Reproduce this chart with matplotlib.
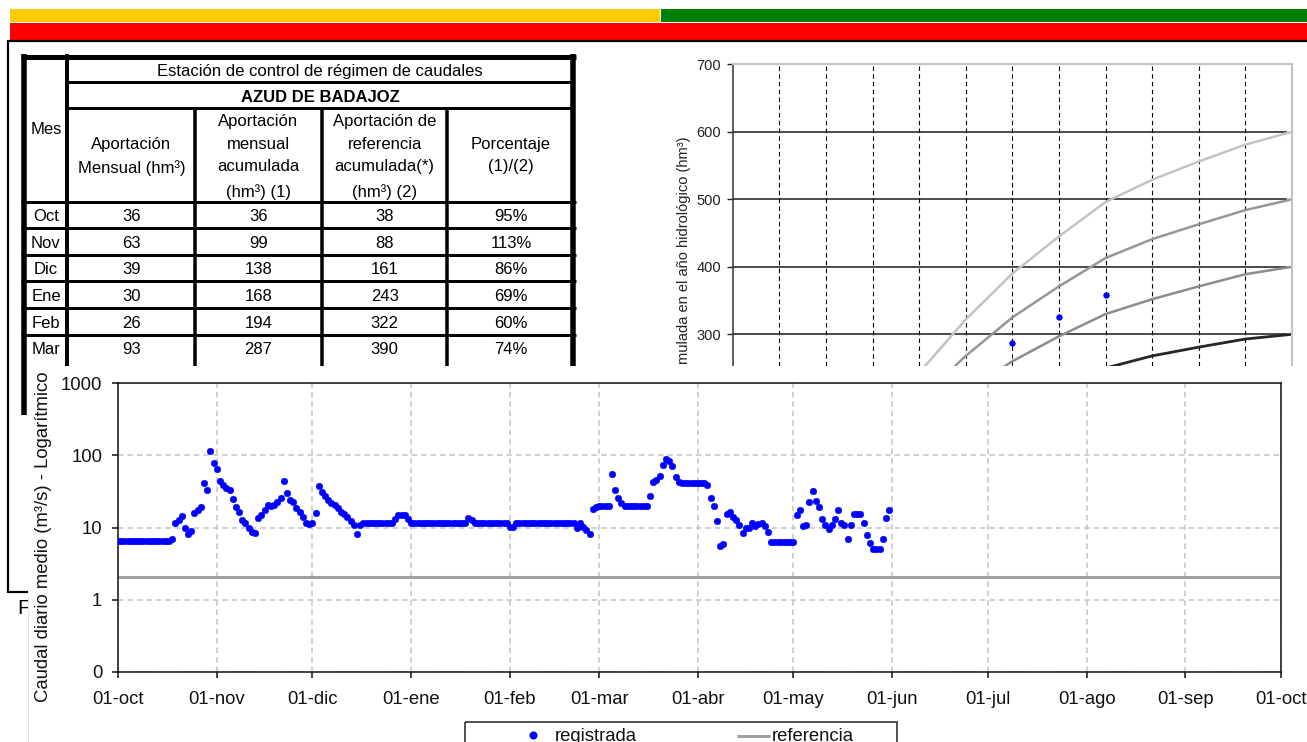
import numpy as np
import matplotlib
matplotlib.use("Agg")
import matplotlib.pyplot as plt
from matplotlib.patches import Rectangle
from matplotlib.ticker import NullLocator, FixedLocator, FixedFormatter

W, H = 1307, 742
DPI = 100
PX = 0.72  # points per pixel at 100 dpi

plt.rcParams['font.family'] = ['Liberation Sans', 'DejaVu Sans']

# ---------------- table data ----------------
meses = ["Oct", "Nov", "Dic", "Ene", "Feb", "Mar"]
aport_mensual = [36, 63, 39, 30, 26, 93]
aport_acumulada = [36, 99, 138, 168, 194, 287]
ref_acumulada = [38, 88, 161, 243, 322, 390]
porcentaje = [95, 113, 86, 69, 60, 74]

# ---------------- cumulative chart data ----------------
mes_pos = list(range(1, 13))
curva_referencia = ref_acumulada + [445, 496, 529, 556, 581, 600]
curva_500 = [32, 73, 134, 203, 268, 325, 371, 413, 441, 463, 484, 500]
curva_400 = [25, 59, 107, 162, 215, 260, 297, 330, 352, 371, 389, 400]
curva_300 = [19, 44, 81, 122, 161, 195, 223, 250, 268, 281, 293, 300]
acum_pos = [6, 7, 8]
acum_valor = [287, 326, 358]

# ---------------- daily flow data (m3/s) ----------------
caudal_oct = [6.6, 6.6, 6.6, 6.6, 6.6, 6.6, 6.6, 6.6, 6.6, 6.6, 6.6, 6.6, 6.6, 6.6, 6.6, 6.6, 6.6,
              7.0, 11.4, 12.5, 14.5, 10.0, 8.1, 9.0, 15.7, 17.5, 19.5, 41.4, 33.5, 115, 79]
caudal_nov = [65, 44, 39, 35, 32.6, 24.7, 19, 16.6, 12.9, 11.4, 9.7, 8.7, 8.3, 13.4, 14.9,
              17.5, 20.5, 19.9, 20.5, 22.9, 25.5, 43.7, 30, 24, 22.9, 18.5, 16.6, 14.1, 11.4, 11.1]
caudal_dic = [11.4, 15.9, 37, 31, 27, 24, 21.7, 20.5, 18.5, 16.6, 15.4, 13.8, 12.4, 10.8, 8.2, 10.8,
              11.4, 11.4, 11.4, 11.4, 11.4, 11.4, 11.4, 11.4, 11.4, 11.4, 13.0, 14.7, 14.7, 14.7, 13.2]
caudal_ene = [11.4, 11.4, 11.4, 11.4, 11.4, 11.4, 11.4, 11.4, 11.4, 11.4, 11.4, 11.4, 11.4, 11.4,
              11.4, 11.4, 11.4, 11.4, 13.5, 12.6, 11.4, 11.4, 11.4, 11.4, 11.4, 11.4, 11.4, 11.4,
              11.4, 11.4, 11.4]
caudal_feb = [10.3, 10.3, 11.4, 11.4, 11.4, 11.4, 11.4, 11.4, 11.4, 11.4, 11.4, 11.4, 11.4, 11.4,
              11.4, 11.4, 11.4, 11.4, 11.4, 11.4, 11.4, 10.0, 11.4, 10.1, 9.3, 8.2, 18, 19.2]
caudal_mar = [20, 19.6, 19.6, 19.6, 55, 33, 25.5, 21.8, 19.6, 19.6, 19.6, 19.6, 19.6, 19.6, 19.6,
              19.6, 27, 42, 46, 52, 74, 88, 84, 70, 50, 43, 41.5, 41.5, 41.5, 41.5, 41.5]
caudal_abr = [41.5, 41.5, 41.5, 39, 25.5, 20, 12.3, 5.6, 6.0, 15.5, 16.2, 14, 12.8, 11, 8.5,
              9.8, 10, 11.6, 10.4, 11.3, 11.7, 10.4, 8.7, 6.4, 6.4, 6.4, 6.4, 6.4, 6.4, 6.4]
caudal_may = [6.4, 15, 17.6, 10.4, 11, 22.5, 31.6, 23.5, 19, 13.1, 10.9, 9.5, 11, 13.1, 17.2,
              11.7, 11, 7.0, 11, 15.3, 15.5, 15.3, 11.4, 7.8, 6.1, 5.1, 5.0, 5.0, 7.0, 13.5, 17.2]
caudal_referencia = 2.07

mes_ticks = [0, 31, 61, 92, 123, 151, 182, 212, 243, 273, 304, 335, 365]
mes_labels = ["01-oct", "01-nov", "01-dic", "01-ene", "01-feb", "01-mar", "01-abr",
              "01-may", "01-jun", "01-jul", "01-ago", "01-sep", "01-oct"]

caudal = (caudal_oct + caudal_nov + caudal_dic + caudal_ene + caudal_feb +
          caudal_mar + caudal_abr + caudal_may)
dias = np.arange(len(caudal))

fig = plt.figure(figsize=(W / DPI, H / DPI), dpi=DPI)


def box(x0, y0, x1, y1):
    """Pixel box (origin top-left) to figure-fraction rectangle."""
    return [x0 / W, 1 - y1 / H, (x1 - x0) / W, (y1 - y0) / H]


def canvas(z):
    a = fig.add_axes([0, 0, 1, 1], zorder=z)
    a.set_xlim(0, W)
    a.set_ylim(H, 0)
    a.axis('off')
    return a


back = canvas(0)

# header bars
back.add_patch(Rectangle((10, 8.5), 650, 13.5, facecolor='#ffcc00', lw=0))
back.add_patch(Rectangle((660.5, 8.5), 646.5, 13.5, facecolor='#008000', lw=0))
back.add_patch(Rectangle((10, 23), 1297, 16.5, facecolor='#ff0000', lw=0))

# page frame
back.plot([8.3, W], [40.8, 40.8], color='black', lw=2.2 * PX, solid_capstyle='butt')
back.plot([8.3, 8.3], [40, 592.7], color='black', lw=2.2 * PX, solid_capstyle='butt')
back.plot([7.5, 28], [591.7, 591.7], color='black', lw=2.2 * PX, solid_capstyle='butt')
back.text(17, 608, "F", fontsize=15, ha='left', va='center', color='black')

# ---------------- table ----------------
tcol = dict(color='black', solid_capstyle='butt')
x_left, x_mes, x_c1, x_c2, x_c3, x_right = 23.8, 67, 195, 321.5, 447, 573
back.plot([x_left, x_left], [54, 415], lw=5.5 * PX, **tcol)
back.plot([x_mes, x_mes], [54, 415], lw=4 * PX, **tcol)
for xv in (x_c1, x_c2, x_c3):
    back.plot([xv, xv], [108, 415], lw=3.5 * PX, **tcol)
back.plot([x_right, x_right], [54, 415], lw=5.5 * PX, **tcol)
back.plot([21, 576], [56.5, 56.5], lw=5 * PX, **tcol)
back.plot([x_mes, x_right], [82, 82], lw=3 * PX, **tcol)
back.plot([x_mes, x_right], [108, 108], lw=3 * PX, **tcol)
for yv in (202, 227.7, 254.5, 281.2, 308, 334.7):
    back.plot([21, 576], [yv, yv], lw=3 * PX, **tcol)

fs_t = 12
back.text(320, 71.7, "Estación de control de régimen de caudales", fontsize=fs_t,
          ha='center', va='center')
back.text(320, 97.3, "AZUD DE BADAJOZ", fontsize=fs_t, fontweight='bold',
          ha='center', va='center')
back.text(46, 130, "Mes", fontsize=fs_t, ha='center', va='center')

cx = [46, 131.5, 258.3, 384.6, 511]
headers = [
    (cx[1], [(144.3, "Aportación"), (168.3, "Mensual (hm³)")]),
    (cx[2], [(121.7, "Aportación"), (144.3, "mensual"), (166.7, "acumulada"), (191.7, "(hm³) (1)")]),
    (cx[3], [(121.7, "Aportación de"), (144.3, "referencia"), (166.7, "acumulada(*)"), (191.7, "(hm³) (2)")]),
    (cx[4], [(144.3, "Porcentaje"), (166.7, "(1)/(2)")]),
]
for xc, lines in headers:
    for yc, s in lines:
        back.text(xc, yc, s, fontsize=fs_t, ha='center', va='center')

row_y = [216.5, 243.5, 270, 296.5, 323, 349.5]
for i, yr in enumerate(row_y):
    back.text(cx[0], yr, meses[i], fontsize=fs_t, ha='center', va='center')
    back.text(cx[1], yr, str(aport_mensual[i]), fontsize=fs_t, ha='center', va='center')
    back.text(cx[2], yr, str(aport_acumulada[i]), fontsize=fs_t, ha='center', va='center')
    back.text(cx[3], yr, str(ref_acumulada[i]), fontsize=fs_t, ha='center', va='center')
    back.text(cx[4], yr, f"{porcentaje[i]}%", fontsize=fs_t, ha='center', va='center')

# ---------------- cumulative volume chart ----------------
ax_top = fig.add_axes(box(732.7, 64.3, 1292, 64.3 + 700 * 0.675), zorder=1)
ax_top.set_xlim(0, 12)
ax_top.set_ylim(0, 700)
ax_top.hlines(range(100, 700, 100), 0, 11.9, colors='#1a1a1a', lw=1.1, zorder=1)
ax_top.vlines(range(1, 12), 0, 700, colors='black', lw=0.8, linestyles=(0, (4, 3)), zorder=1)
ax_top.plot(mes_pos, curva_300, color='#262626', lw=2.0, zorder=2)
ax_top.plot(mes_pos, curva_400, color='#8c8c8c', lw=1.8, zorder=2)
ax_top.plot(mes_pos, curva_500, color='#969696', lw=1.8, zorder=2)
ax_top.plot(mes_pos, curva_referencia, color='#c3c3c3', lw=1.8, zorder=2)
ax_top.plot(acum_pos, acum_valor, ls='none', marker='o', ms=3.6, color='#0000ff',
            mec='#0000ff', zorder=3)
ax_top.set_yticks(range(0, 701, 100))
ax_top.set_xticks([])
ax_top.tick_params(axis='y', direction='out', length=4.3, width=1.0, pad=4,
                   labelsize=10.5, colors='#222222')
ax_top.spines['left'].set_color('#333333')
ax_top.spines['left'].set_linewidth(1.1)
for s in ('top', 'right'):
    ax_top.spines[s].set_color('#c4c4c4')
    ax_top.spines[s].set_linewidth(1.6)
ax_top.spines['bottom'].set_visible(False)

back.text(684, 137, "Aportación acumulada en el año hidrológico (hm³)", rotation=90,
          fontsize=10.5, ha='center', va='top', color='#222222')

# ---------------- white panel of the daily chart ----------------
mid = canvas(2)
mid.add_patch(Rectangle((27.5, 366), W - 27.5, H - 366, facecolor='white', lw=0))
mid.plot([27.5, 27.5], [597, H], color='#e4e4e4', lw=1 * PX)

# ---------------- daily flow chart ----------------
ax = fig.add_axes(box(118, 383, 1281, 672), zorder=3)
ax.patch.set_alpha(0)
ax.set_yscale('log')
ax.set_ylim(0.1, 1000)
ax.set_xlim(0, 365)
ax.yaxis.set_major_locator(FixedLocator([0.1, 1, 10, 100, 1000]))
ax.yaxis.set_major_formatter(FixedFormatter(["0", "1", "10", "100", "1000"]))
ax.yaxis.set_minor_locator(NullLocator())
ax.set_xticks(mes_ticks)
ax.set_xticklabels(mes_labels)
ax.set_axisbelow(True)
ax.grid(True, which='major', color='#c4c4c4', ls=(0, (3.6, 2.6)), lw=1.1)
ax.tick_params(axis='both', direction='out', length=4.3, width=1.1,
               labelsize=13.3, colors='#111111')
ax.tick_params(axis='y', pad=7)
ax.tick_params(axis='x', pad=9.5)
for s in ax.spines.values():
    s.set_color('#111111')
    s.set_linewidth(1.1)

ax.plot([0, 364], [caudal_referencia, caudal_referencia], color='#a0a0a0', lw=2.2, zorder=2)
ax.plot(dias, caudal, ls='none', marker='o', ms=4.8, color='#0000ff', mec='#0000ff',
        mew=0.3, zorder=3)

front = canvas(4)
front.text(44, 537, "Caudal diario medio (m³/s) - Logarítmico", rotation=90,
           fontsize=13.3, ha='center', va='center', color='#111111')

# legend of the daily chart
front.add_patch(Rectangle((465, 722), 432, 40, fill=False, edgecolor='#222222', lw=1.1))
front.plot([533], [735], ls='none', marker='o', ms=4.8, color='#0000ff', mec='#0000ff')
front.text(555, 741, "registrada", fontsize=13.3, ha='left', va='baseline', color='#111111')
front.plot([737, 770], [735.7, 735.7], color='#a0a0a0', lw=2.2, solid_capstyle='butt')
front.text(772, 741, "referencia", fontsize=13.3, ha='left', va='baseline', color='#111111')

fig.savefig("out.png", dpi=DPI)
